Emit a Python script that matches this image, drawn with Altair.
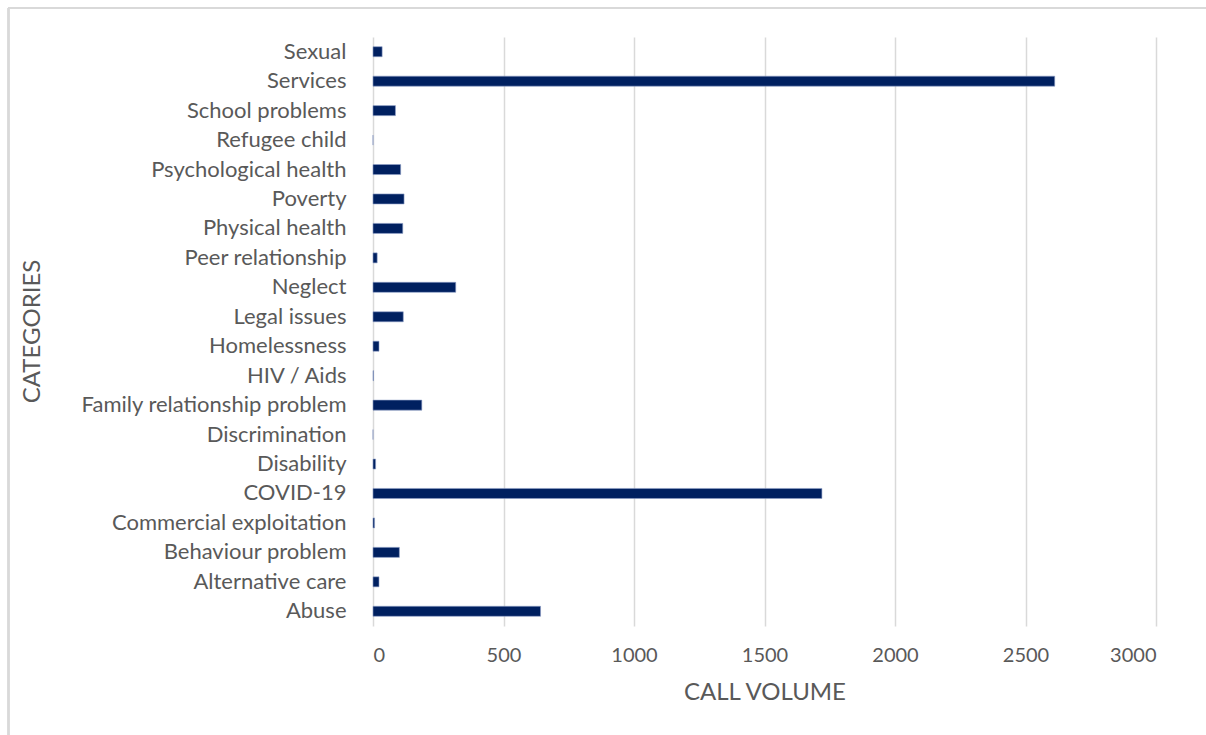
import altair as alt
import pandas as pd

categories = ["Sexual", "Services", "School problems", "Refugee child", "Psychological health",
              "Poverty", "Physical health", "Peer relationship", "Neglect", "Legal issues",
              "Homelessness", "HIV / Aids", "Family relationship problem", "Discrimination",
              "Disability", "COVID-19", "Commercial exploitation", "Behaviour problem",
              "Alternative care", "Abuse"]
values = [35, 2612, 86, 0, 106, 119, 114, 16, 317, 116,
          23, 2, 187, 0, 10, 1720, 6, 101, 23, 642]

df = pd.DataFrame({"category": categories, "calls": values})

FONT = "Lato"
GRAY = "#595959"

bars = alt.Chart(df).mark_bar(color="#002060", stroke="#8ea0c8", strokeWidth=0.6).encode(
    x=alt.X("calls:Q", scale=alt.Scale(domain=[0, 3000], nice=False),
            axis=alt.Axis(values=[0, 500, 1000, 1500, 2000, 2500, 3000], format="d",
                          title="CALL VOLUME", titleFontSize=24, titleFont=FONT,
                          titleFontWeight="normal", titleColor=GRAY, titlePadding=15,
                          labelFont=FONT, labelFontSize=20, labelColor=GRAY, labelPadding=19,
                          ticks=False, domain=False, grid=True, gridColor="#d9d9d9",
                          gridWidth=1.5)),
    y=alt.Y("category:N", sort=categories,
            scale=alt.Scale(paddingInner=0.66, paddingOuter=0.33),
            axis=alt.Axis(title="CATEGORIES", titleFontSize=24, titleFont=FONT,
                          titleFontWeight="normal", titleColor=GRAY,
                          titleX=-341, titleY=294, titleAngle=270, titleAlign="center",
                          titleBaseline="middle",
                          labelFont=FONT, labelFontSize=22, labelColor=GRAY, labelPadding=27,
                          ticks=False, domain=False, grid=False, labelLimit=400)),
)

frame_left = alt.Chart(df).mark_rule(color="#d9d9d9", strokeWidth=1.5).encode(
    x=alt.value(-364.5), y=alt.value(-29), y2=alt.value(720))
frame_top = alt.Chart(df).mark_rule(color="#d9d9d9", strokeWidth=1.5).encode(
    x=alt.value(-365), x2=alt.value(840), y=alt.value(-29))

chart = alt.layer(frame_left, frame_top, bars).properties(
    width=783, height=589,
    autosize=alt.AutoSizeParams(type="none"),
    padding={"left": 373, "top": 37, "right": 50, "bottom": 109},
    background="white",
).configure_view(stroke=None)

chart.save("out.html", embed_options={"renderer": "svg", "actions": False})
